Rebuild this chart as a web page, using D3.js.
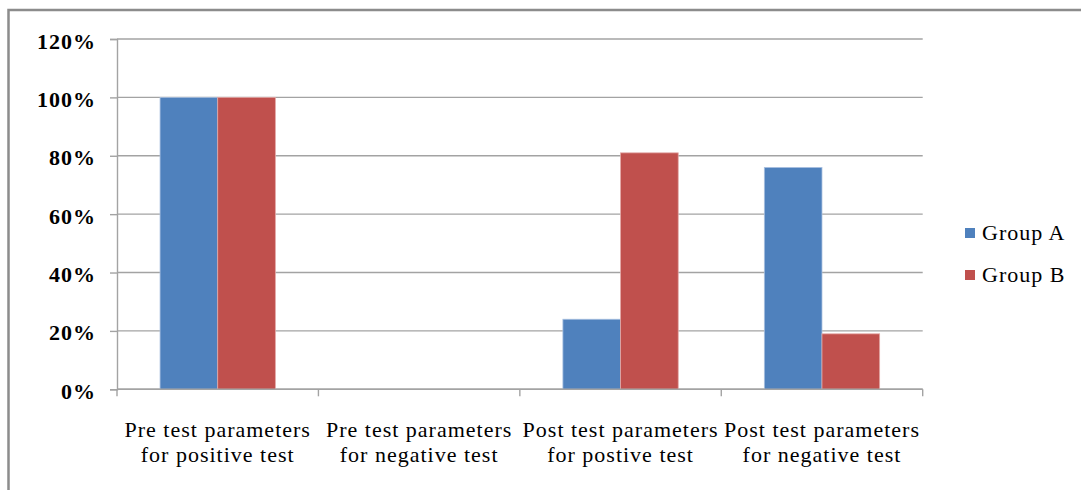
<!DOCTYPE html>
<html>
<head>
<meta charset="utf-8">
<script src="https://cdn.jsdelivr.net/npm/d3@7/dist/d3.min.js"></script>
<style>
  html, body { margin: 0; padding: 0; background: #fff; }
  svg { display: block; }
  text { font-family: "Liberation Serif", "Times New Roman", serif; fill: #000; }
</style>
</head>
<body>
<svg id="chart" width="1081" height="490"></svg>
<script>
// Chart data
const categories = [
  ["Pre test parameters", "for positive test"],
  ["Pre test parameters", "for negative test"],
  ["Post test parameters", "for postive test"],
  ["Post test parameters", "for negative test"]
];
const seriesNames = ["Group A", "Group B"];
const groupA = [1.00, 0.00, 0.24, 0.76];
const groupB = [1.00, 0.00, 0.81, 0.19];
const yTicks = [0, 0.2, 0.4, 0.6, 0.8, 1.0, 1.2];
const colors = ["#4F81BD", "#C0504D"];
const edgeColors = ["#a9c0e0", "#e3a8a6"];

const svg = d3.select("#chart");

// Outer chart frame
svg.append("rect")
  .attr("x", 8.5).attr("y", 10)
  .attr("width", 1100).attr("height", 500)
  .attr("fill", "none")
  .attr("stroke", "#8c8c8c")
  .attr("stroke-width", 2.5);

const plot = { left: 117, right: 922.7, top: 39, bottom: 389.3 };

const catIdx = categories.map((_, i) => i);
const p = 0.4275;
const x = d3.scaleBand()
  .domain(catIdx)
  .range([plot.left, plot.right])
  .paddingInner(p)
  .paddingOuter(p / 2);

const xs = d3.scaleBand()
  .domain(seriesNames)
  .range([0, x.bandwidth()]);

const y = d3.scaleLinear()
  .domain([0, 1.2])
  .range([plot.bottom, plot.top]);

const gridColor = "#a3a3a3";

// Horizontal gridlines
svg.append("g")
  .selectAll("line")
  .data(yTicks)
  .join("line")
  .attr("x1", plot.left).attr("x2", plot.right)
  .attr("y1", d => y(d)).attr("y2", d => y(d))
  .attr("stroke", gridColor)
  .attr("stroke-width", 1.4);

// Y axis
const yAxis = d3.axisLeft(y)
  .tickValues(yTicks)
  .tickFormat(d3.format(".0%"))
  .tickSize(7)
  .tickPadding(14);
const gy = svg.append("g")
  .attr("transform", `translate(${plot.left},0)`)
  .call(yAxis);
gy.select(".domain").attr("stroke", gridColor).attr("stroke-width", 1.4);
gy.selectAll(".tick line").attr("stroke", gridColor).attr("stroke-width", 1.4);
gy.selectAll(".tick text")
  .attr("dy", "0.41em")
  .style("font-family", '"Liberation Serif", "Times New Roman", serif')
  .style("font-size", "22px")
  .style("font-weight", "bold")
  .style("letter-spacing", "1px")
  .attr("fill", "#000");

// Bars
const seriesData = [groupA, groupB];
seriesNames.forEach((name, si) => {
  svg.append("g")
    .selectAll("rect")
    .data(seriesData[si])
    .join("rect")
    .attr("x", (d, i) => x(i) + xs(name))
    .attr("y", d => y(d))
    .attr("width", xs.bandwidth())
    .attr("height", d => y(0) - y(d))
    .attr("fill", colors[si])
    .attr("stroke", d => d > 0 ? edgeColors[si] : "none")
    .attr("stroke-width", 0.8);
});

// X axis line with tick marks at category boundaries
const step = x.step();
const boundaries = d3.range(categories.length + 1).map(i => x(0) - step * p / 2 + i * step);
const gx = svg.append("g");
gx.append("line")
  .attr("x1", plot.left).attr("x2", plot.right)
  .attr("y1", y(0)).attr("y2", y(0))
  .attr("stroke", gridColor).attr("stroke-width", 1.4);
gx.selectAll("line.tick")
  .data(boundaries)
  .join("line")
  .attr("class", "tick")
  .attr("x1", d => d).attr("x2", d => d)
  .attr("y1", y(0)).attr("y2", y(0) + 7)
  .attr("stroke", gridColor).attr("stroke-width", 1.4);

// Category labels (two lines each)
const labels = svg.append("g")
  .selectAll("text")
  .data(categories)
  .join("text")
  .attr("text-anchor", "middle")
  .style("font-size", "22px")
  .style("letter-spacing", "1px");
labels.each(function(lines, i) {
  const t = d3.select(this);
  lines.forEach((ln, li) => {
    t.append("tspan")
      .attr("x", x(i) + x.bandwidth() / 2)
      .attr("y", 436.7 + li * 25)
      .text(ln);
  });
});

// Legend
const legend = svg.append("g").attr("transform", "translate(965,228)");
seriesNames.forEach((name, si) => {
  const g = legend.append("g").attr("transform", `translate(0,${si * 42})`);
  g.append("rect")
    .attr("width", 10).attr("height", 10)
    .attr("fill", colors[si]);
  g.append("text")
    .attr("x", 17).attr("y", 12)
    .style("font-size", "22px")
    .style("letter-spacing", "1px")
    .text(name);
});
</script>
</body>
</html>
